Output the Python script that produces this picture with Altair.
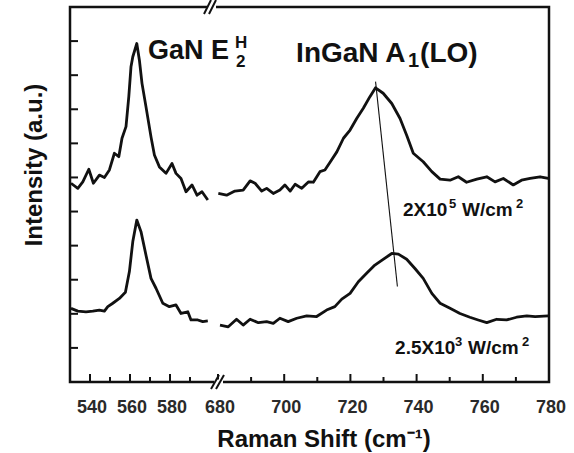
import altair as alt
import pandas as pd

# ---- data ----
upper_left_w = [530.5, 533.9, 536.4, 539.4, 541.7, 544.7, 547.2, 549.7, 552.2, 554.4,
                556.0, 558.0, 559.4, 560.5, 561.4, 563.4, 564.7, 566.0, 568.0, 570.5,
                572.2, 574.7, 578.0, 581.0, 583.0, 585.5, 588.0, 591.0, 593.5, 596.0, 598.9]
upper_left_i = [5.83, 5.68, 5.87, 6.24, 5.83, 6.07, 6.00, 6.22, 6.71, 6.61,
                7.15, 7.49, 8.37, 9.25, 9.54, 9.93, 9.44, 8.76, 8.07, 7.19,
                6.66, 6.31, 6.12, 6.41, 6.12, 5.97, 5.58, 5.78, 5.48, 5.58, 5.34]
upper_right_w = [680.1, 682.6, 685.1, 687.6, 689.7, 691.2, 693.2, 694.7, 696.7, 698.7,
                 700.2, 701.8, 703.3, 705.3, 707.3, 708.8, 710.8, 712.3, 713.8, 715.9,
                 717.9, 719.9, 721.9, 723.9, 725.9, 727.6, 729.9, 732.5, 735.0, 737.0,
                 739.0, 742.0, 744.6, 747.1, 750.1, 752.6, 755.1, 758.2, 761.2, 763.7,
                 766.2, 769.2, 771.7, 774.3, 777.3, 779.8]
upper_right_i = [5.53, 5.48, 5.60, 5.63, 5.90, 5.83, 5.60, 5.68, 5.53, 5.63,
                 5.78, 5.60, 5.80, 5.68, 5.87, 5.86, 6.17, 6.22, 6.44, 6.75,
                 7.15, 7.39, 7.73, 8.03, 8.37, 8.63, 8.47, 8.17, 7.73, 7.24,
                 6.71, 6.46, 6.17, 5.95, 5.92, 6.02, 5.86, 5.95, 6.02, 5.87,
                 5.97, 5.78, 5.92, 5.97, 6.02, 5.97]
lower_left_w = [530.5, 533.9, 538.0, 541.4, 544.7, 547.2, 548.9, 551.4, 554.7, 557.7,
                559.7, 561.4, 563.4, 565.5, 568.0, 570.5, 573.0, 576.4, 579.7, 583.0,
                585.5, 588.9, 590.5, 593.9, 596.4, 598.9]
lower_left_i = [2.16, 2.08, 2.06, 2.08, 2.11, 2.08, 2.21, 2.31, 2.45, 2.63,
                3.24, 4.12, 4.75, 4.41, 3.72, 3.04, 2.75, 2.31, 2.21, 2.26,
                2.01, 2.06, 1.82, 1.82, 1.77, 1.79]
lower_right_w = [680.6, 683.1, 685.6, 687.6, 689.7, 692.2, 694.7, 696.7, 698.7, 701.2,
                 703.8, 706.8, 709.8, 712.8, 715.3, 717.4, 719.9, 722.4, 724.9, 727.4,
                 729.9, 732.5, 734.5, 737.0, 739.5, 742.0, 744.6, 747.1, 750.1, 753.1,
                 756.1, 758.6, 761.2, 764.2, 767.2, 770.2, 773.3, 775.8, 779.8]
lower_right_i = [1.67, 1.62, 1.84, 1.67, 1.84, 1.74, 1.77, 1.72, 1.87, 1.77,
                 1.87, 1.94, 1.92, 2.11, 2.21, 2.43, 2.60, 2.94, 3.19, 3.43,
                 3.60, 3.77, 3.75, 3.60, 3.33, 3.04, 2.60, 2.31, 2.16, 2.01,
                 1.90, 1.82, 1.74, 1.84, 1.82, 1.90, 1.94, 1.92, 1.94]

shift_line_w = [727.6, 734.2]
shift_line_i = [8.81, 2.80]

x_label_values = [540, 560, 580, 680, 700, 720, 740, 760, 780]
x_major_ticks = [540, 560, 580, 680, 700, 720, 740, 760]
x_minor_ticks = [550, 570, 590, 690, 710, 730, 750, 770]
y_ticks = [1, 2, 3, 4, 5, 6, 7, 8, 9, 10]
x_title = "Raman Shift (cm⁻¹)"
y_title = "Intensity (a.u.)"

# ---- broken-axis mapping (530-600 | 680-780) ----
XP = "datum.w < 640 ? (datum.w - 530) * 2 : 148 + (datum.w - 680) * 3.31"

FONT = "Liberation Sans"
INK = "#111111"

rows = []
for name, ws, iv in [("hi_a", upper_left_w, upper_left_i), ("hi_b", upper_right_w, upper_right_i),
                     ("lo_a", lower_left_w, lower_left_i), ("lo_b", lower_right_w, lower_right_i)]:
    for w, i in zip(ws, iv):
        rows.append({"w": w, "I": i, "part": name})
spectra = pd.DataFrame(rows)

xscale = alt.Scale(domain=[0, 479], nice=False, zero=False)
yscale = alt.Scale(domain=[0, 11], nice=False, zero=False)
X = lambda f="xp:Q": alt.X(f, scale=xscale, axis=None)
Y = lambda f="I:Q": alt.Y(f, scale=yscale, axis=None)

lines = alt.Chart(spectra).transform_calculate(xp=XP).mark_line(
    color=INK, strokeWidth=2.8, strokeJoin="round").encode(
    x=X(), y=Y(), detail="part:N", order="w:Q")

shift = alt.Chart(pd.DataFrame({"w": shift_line_w, "I": shift_line_i})).transform_calculate(
    xp=XP).mark_line(color=INK, strokeWidth=1.1).encode(x=X(), y=Y())

tick_df = pd.DataFrame({"w": x_major_ticks + x_minor_ticks,
                        "kind": ["major"] * len(x_major_ticks) + ["minor"] * len(x_minor_ticks)})
xticks_major = alt.Chart(tick_df).transform_filter("datum.kind == 'major'").transform_calculate(
    xp=XP).mark_rule(color=INK, strokeWidth=2).encode(x=X(), y=alt.value(375), y2=alt.value(367))
xticks_minor = alt.Chart(tick_df).transform_filter("datum.kind == 'minor'").transform_calculate(
    xp=XP).mark_rule(color=INK, strokeWidth=2).encode(x=X(), y=alt.value(375), y2=alt.value(370))
yticks = alt.Chart(pd.DataFrame({"v": y_ticks})).mark_rule(color=INK, strokeWidth=2).encode(
    y=Y("v:Q"), x=alt.value(0), x2=alt.value(8))

# tick labels along the broken x axis
xlabels = alt.Chart(pd.DataFrame({"w": x_label_values})).transform_calculate(
    xp=XP, lab="format(datum.w, 'd')").mark_text(
    font=FONT, fontSize=18, fontWeight="bold", color="#2a2a2a", align="center",
    baseline="alphabetic", dx=2).encode(x=X(), y=alt.value(406), text="lab:N")

dummy = pd.DataFrame({"a": [0]})
xtitle = alt.Chart(dummy).mark_text(
    text=x_title, font=FONT, fontSize=24, fontWeight="bold", color=INK, align="center",
    baseline="alphabetic").encode(x=alt.value(254), y=alt.value(440))
ytitle = alt.Chart(dummy).mark_text(
    text=y_title, font=FONT, fontSize=24, fontWeight="bold", color=INK, align="center",
    baseline="alphabetic", angle=270).encode(x=alt.value(-28), y=alt.value(158))

# break marks on the frame (decoration, pixel units)
deco = []
for (x1, x2, yy) in [(137, 146, 0), (144, 153, 375)]:
    deco.append(alt.Chart(dummy).mark_rule(color="white", strokeWidth=5).encode(
        x=alt.value(x1), x2=alt.value(x2), y=alt.value(yy)))
for (x1, x2, y1, y2) in [(134, 141, 7, -7), (139, 146, 7, -7), (141, 149, 382, 368), (146, 154, 382, 368)]:
    deco.append(alt.Chart(dummy).mark_rule(color=INK, strokeWidth=2).encode(
        x=alt.value(x1), x2=alt.value(x2), y=alt.value(y1), y2=alt.value(y2)))


def piece(text, w, inten, size, dx=0, dy=0):
    return alt.Chart(pd.DataFrame({"w": [w], "I": [inten], "t": [text]})).transform_calculate(
        xp=XP).mark_text(align="left", baseline="alphabetic", font=FONT, fontWeight="bold",
                         fontSize=size, dx=dx, dy=dy, color=INK).encode(
        x=X(), y=Y(), text="t:N")


texts = [
    piece("GaN E", 569, 9.47, 27),
    piece("H", 569, 9.47, 17, dx=87, dy=-11),
    piece("2", 569, 9.47, 17, dx=88, dy=8),
    piece("InGaN A", 703.6, 9.39, 28),
    piece("1", 703.6, 9.39, 20, dx=112, dy=5),
    piece("(LO)", 703.6, 9.39, 28, dx=124),
    piece("2X10", 735.9, 4.87, 19),
    piece("5", 735.9, 4.87, 13, dx=46, dy=-8),
    piece("W/cm", 735.9, 4.87, 19, dx=59),
    piece("2", 735.9, 4.87, 13, dx=113, dy=-8),
    piece("2.5X10", 733.5, 0.82, 19),
    piece("3", 733.5, 0.82, 13, dx=60, dy=-8),
    piece("W/cm", 733.5, 0.82, 19, dx=73),
    piece("2", 733.5, 0.82, 13, dx=127, dy=-8),
]

chart = alt.layer(lines, shift, xticks_major, xticks_minor, yticks, xlabels, xtitle, ytitle,
                  *deco, *texts).properties(
    width=479, height=375,
    autosize=alt.AutoSizeParams(type="none"),
    padding={"left": 70, "top": 7, "right": 25, "bottom": 71},
    background="white",
).configure_view(stroke=INK, strokeWidth=2.5)

chart.save("out.html", embed_options={"renderer": "svg", "actions": False})
